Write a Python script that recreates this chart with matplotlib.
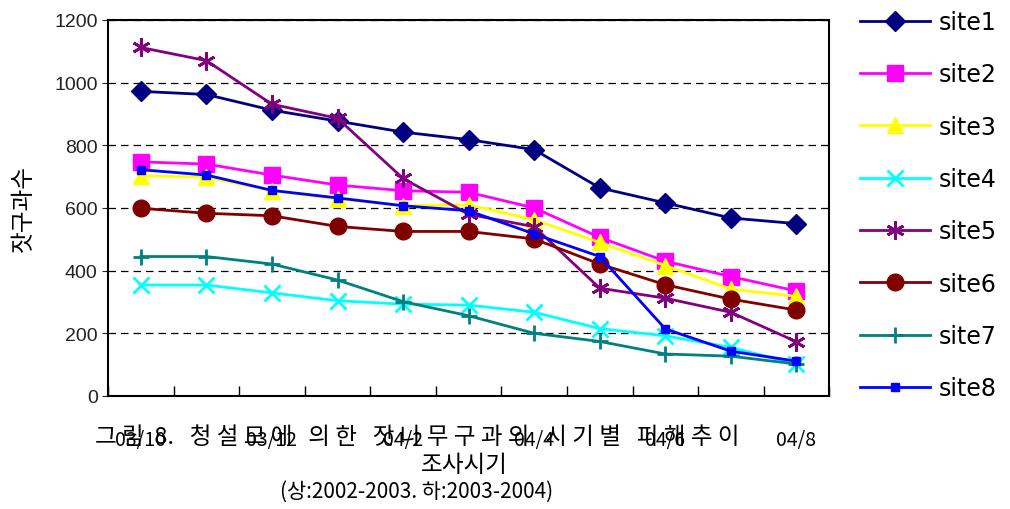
import numpy as np
import matplotlib.pyplot as plt
from matplotlib.ticker import FixedLocator, NullFormatter

periods = ['03/10', '03/11', '03/12', '04/1', '04/2', '04/3',
           '04/4', '04/5', '04/6', '04/7', '04/8']
shown_labels = ['03/10', '', '03/12', '', '04/2', '', '04/4', '', '04/6', '', '04/8']

site1 = [972, 962, 912, 877, 842, 818, 786, 664, 616, 568, 550]
site2 = [747, 740, 705, 673, 655, 650, 600, 506, 430, 381, 335]
site3 = [703, 698, 655, 628, 607, 610, 562, 490, 416, 341, 318]
site4 = [354, 354, 329, 304, 293, 290, 267, 215, 192, 155, 102]
site5 = [1112, 1070, 931, 886, 694, 580, 540, 344, 312, 267, 173]
site6 = [599, 583, 575, 541, 525, 525, 501, 421, 355, 309, 274]
site7 = [445, 445, 421, 370, 301, 256, 200, 174, 134, 127, 102]
site8 = [722, 705, 656, 632, 607, 591, 517, 445, 214, 143, 111]

series = [
    ('site1', site1, '#000080', dict(marker='D', ms=10)),
    ('site2', site2, '#FF00FF', dict(marker='s', ms=11)),
    ('site3', site3, '#FFFF00', dict(marker='^', ms=12)),
    ('site4', site4, '#00FFFF', dict(marker='x', ms=11, mew=2)),
    ('site5', site5, '#800080', dict(marker=(6, 2, 0), ms=13, mew=2)),
    ('site6', site6, '#800000', dict(marker='o', ms=12)),
    ('site7', site7, '#008080', dict(marker='+', ms=12, mew=2)),
    ('site8', site8, '#0000FF', dict(marker='s', ms=6)),
]

kr = ['Noto Sans CJK KR', 'DejaVu Sans']

fig = plt.figure(figsize=(10.1, 5.1), dpi=100)
ax = fig.add_axes([0.107, 0.2216, 0.714, 0.7374])

x = np.arange(len(periods))
for name, vals, col, mk in series:
    ax.plot(x, vals, color=col, lw=2, label=name, **mk)

ax.set_xlim(-0.5, len(periods) - 0.5)
ax.set_ylim(0, 1200)
ax.set_yticks(range(0, 1201, 200))
ax.tick_params(axis='y', labelsize=14, length=4, colors='#222222')
for t in ax.get_yticklabels():
    t.set_family('Liberation Sans')

ax.set_xticks(x)
ax.set_xticklabels(shown_labels, family=kr, fontsize=14)
ax.tick_params(axis='x', length=0, pad=24)
ax.xaxis.set_minor_locator(FixedLocator(np.arange(-0.5, len(periods), 1.0)))
ax.xaxis.set_minor_formatter(NullFormatter())
ax.tick_params(axis='x', which='minor', direction='in', length=7, width=1)

ax.yaxis.grid(True, linestyle=(0, (6, 4)), color='black', lw=0.9)
for s in ax.spines.values():
    s.set_linewidth(1.5)
    s.set_color('black')

ax.set_ylabel('잣구과수', family=kr, fontsize=17, labelpad=14)
fig.text(0.46, 0.088, '조사시기', family=kr, fontsize=17, ha='center', va='center')
fig.text(0.412, 0.035, '(상:2002-2003. 하:2003-2004)', family=kr, fontsize=15,
         ha='center', va='center')
fig.text(0.094, 0.143, '그 림  8.   청 설 모 에   의 한   잣 나 무 구 과 의   시 기 별   피 해 추 이',
         family=kr, fontsize=17, ha='left', va='center')

fig.legend(loc='upper left', bbox_to_anchor=(0.83, 1.02), frameon=False,
           fontsize=17, handlelength=3.0, handletextpad=0.35, labelspacing=1.2)

fig.savefig('out.png', dpi=100)
